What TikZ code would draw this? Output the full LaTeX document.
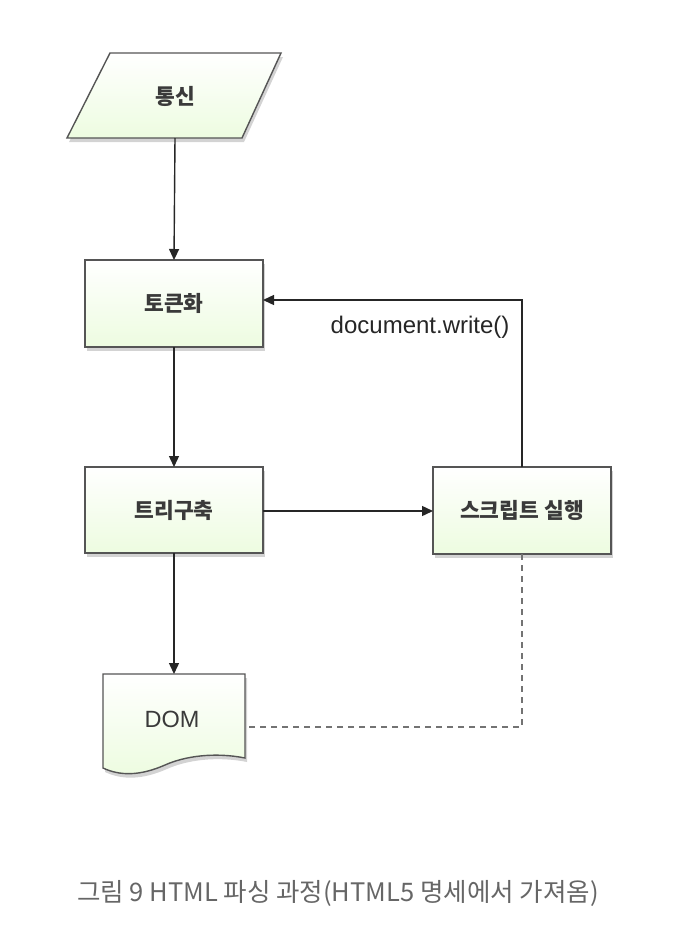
\documentclass[tikz,border=0pt]{standalone}
\usepackage{fontspec}
\setmainfont{Liberation Sans}
\newfontfamily\kr{Noto Sans CJK KR}
\usetikzlibrary{arrows.meta,shadows,calc}
\definecolor{edge}{HTML}{555555}
\definecolor{txt}{HTML}{3A3A3A}
\definecolor{boxgreen}{HTML}{EDFCE0}
\definecolor{capgray}{HTML}{666666}
\tikzset{
  shapefill/.style={top color=white,bottom color=boxgreen,draw=edge,line width=1.4pt,
    drop shadow={shadow xshift=2pt,shadow yshift=-4pt,opacity=0.35,fill=gray}},
  boxlabel/.style={font=\kr\bfseries\fontsize{21.5}{24}\selectfont,text=txt},
  flow/.style={draw=black!85,line width=1.4pt,-{Triangle[length=11pt,width=10pt]}},
  dashline/.style={draw=black!55,line width=1.8pt,dash pattern=on 6pt off 5pt}
}
\begin{document}
\begin{tikzpicture}[x=1pt,y=-1pt]
\useasboundingbox (0,0) rectangle (692,948);
% parallelogram
\path[shapefill] (110,53) -- (281,53) -- (242,138) -- (67,138) -- cycle;
\node[boxlabel] (tongsin) at (175,96) {통신};
\coordinate (tongsinb) at (175,138);
% boxes
\path[shapefill] (85,260) rectangle (263,347);
\node[boxlabel] (token) at (174,303) {토큰화};
\coordinate (tokent) at (174,260);
\coordinate (tokenb) at (174,347);
\coordinate (tokenr) at (263,300);
\path[shapefill] (85,467) rectangle (263,553);
\node[boxlabel] (tree) at (174,510) {트리구축};
\coordinate (treet) at (174,467);
\coordinate (treeb) at (174,553);
\coordinate (treer) at (263,511);
\path[shapefill] (433,467) rectangle (611,554);
\node[boxlabel] (script) at (522,510) {스크립트 실행};
\coordinate (scriptl) at (433,511);
\coordinate (scriptt) at (522,467);
\coordinate (scriptb) at (522,554);
% document shape
\path[shapefill] (103,674) -- (245,674) -- (245,758)
  .. controls (215,752) and (185,756) .. (165,765)
  .. controls (140,776) and (120,776) .. (103,768) -- cycle;
\node[font=\fontsize{23.5}{26}\selectfont,text=txt] (dom) at (172,719) {DOM};
\coordinate (domt) at (174,674);
\coordinate (domr) at (245,727);
% connectors
\draw[flow] (tongsinb) -- (tokent);
\draw[flow] (tokenb) -- (treet);
\draw[flow] (treer) -- (scriptl);
\draw[flow] (scriptt) -- (522,300) -- (tokenr);
\node[font=\fontsize{24}{27}\selectfont,text=black!85,anchor=east] (dw) at (513,327) {document.write()};
\draw[flow] (treeb) -- (domt);
\draw[dashline] (scriptb) -- (522,727) -- (domr);
% caption
\node[font=\kr\fontsize{25.5}{29}\selectfont,text=capgray] (cap) at (338,893) {그림 9 HTML 파싱 과정(HTML5 명세에서 가져옴)};
\end{tikzpicture}
\end{document}
